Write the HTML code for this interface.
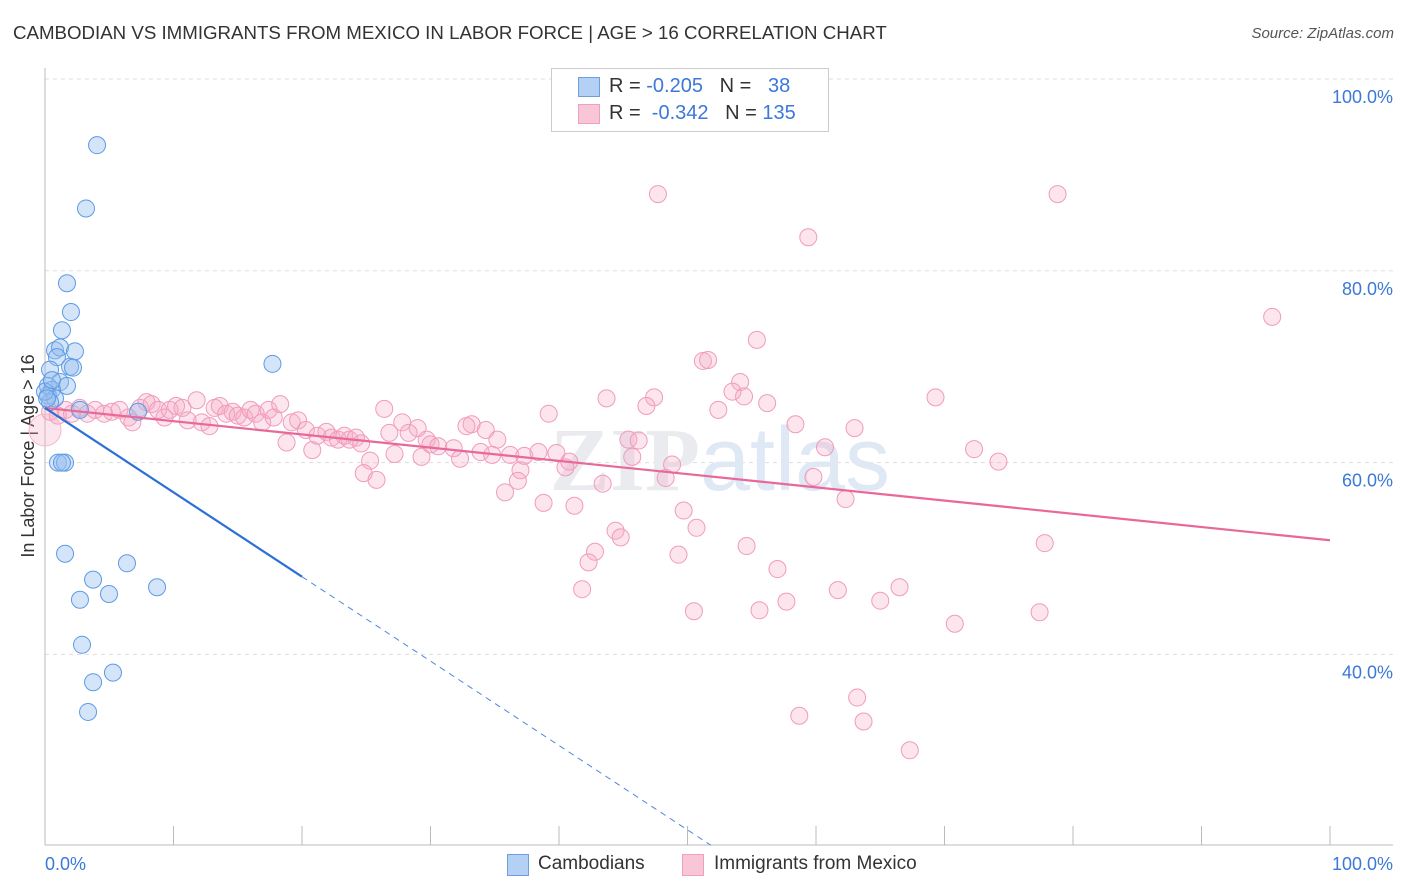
<!DOCTYPE html>
<html><head><meta charset="utf-8">
<style>
body{margin:0;background:#fff;font-family:"Liberation Sans",sans-serif;}
#wrap{position:relative;width:1406px;height:892px;overflow:hidden;}
.t{position:absolute;white-space:nowrap;}
</style></head>
<body>
<div id="wrap">
<div class="t" style="left:13px;top:22px;font-size:18.7px;color:#333;">CAMBODIAN VS IMMIGRANTS FROM MEXICO IN LABOR FORCE | AGE &gt; 16 CORRELATION CHART</div>
<div class="t" style="right:12px;top:25px;font-size:15px;font-style:italic;color:#555;">Source: ZipAtlas.com</div>
<svg id="plot" width="1406" height="892" style="position:absolute;left:0;top:0"></svg>
<div style="position:absolute;left:551px;top:68px;width:276px;height:62px;border:1px solid #ccc;background:#fff;">
 <div style="position:absolute;left:26px;top:8px;width:20px;height:18px;background:#b5d0f5;border:1px solid #6d9fe0;"></div>
 <div style="position:absolute;left:26px;top:35px;width:20px;height:18px;background:#f8c6d6;border:1px solid #f0a0bc;"></div>
 <div class="t" style="left:57px;top:6px;font-size:20px;color:#333;">R = <span style="color:#3b78d8">-0.205</span>&nbsp;&nbsp;&nbsp;N = &nbsp;&nbsp;<span style="color:#3b78d8">38</span></div>
 <div class="t" style="left:57px;top:33px;font-size:20px;color:#333;">R = <span style="color:#3b78d8">&nbsp;-0.342</span>&nbsp;&nbsp;&nbsp;N = <span style="color:#3b78d8">135</span></div>
</div>
<div>
 <div style="position:absolute;left:507px;top:854px;width:20px;height:20px;background:#b5d0f5;border:1px solid #6d9fe0;"></div>
 <div class="t" style="left:538px;top:853px;font-size:19px;color:#333;">Cambodians</div>
 <div style="position:absolute;left:682px;top:854px;width:20px;height:20px;background:#f8c6d6;border:1px solid #f0a0bc;"></div>
 <div class="t" style="left:714px;top:853px;font-size:19px;color:#333;">Immigrants from Mexico</div>
</div>
</div>
<script>
const yTicks=[100,80,60,40];
const yTickLabels=["100.0%","80.0%","60.0%","40.0%"];
const xEndLabels=["0.0%","100.0%"];
const blueX=[4.05,3.19,1.71,2.02,1.32,0.78,1.17,2.33,0.93,1.95,2.18,0.39,1.17,1.71,0.23,0.54,0.23,0.78,0.39,7.24,2.72,17.7,1.01,1.56,1.32,1.56,3.74,6.38,8.72,2.72,4.98,2.88,3.74,5.29,3.35,0,0.16,0.54];
const blueY=[93.1,86.5,78.7,75.7,73.8,71.7,72.0,71.6,71.0,70.0,69.9,69.7,68.4,68.0,68.0,67.6,67.0,66.7,66.3,65.3,65.5,70.3,60.0,60.0,60.0,50.5,47.8,49.5,47.0,45.7,46.3,41.0,37.1,38.1,34.0,67.4,66.7,68.6];
const pinkX=[47.7,78.8,59.4,95.5,55.4,51.2,51.6,54.1,53.5,54.4,47.4,43.7,69.3,56.2,46.8,26.4,39.2,52.4,58.4,63.0,27.8,33.2,32.8,34.3,29.0,26.8,28.3,29.7,30.0,30.6,31.8,35.2,45.4,46.2,60.7,72.3,74.2,27.2,29.3,32.3,33.9,34.8,36.2,37.3,38.4,39.8,40.8,40.5,45.7,48.8,37.0,25.3,24.8,25.8,36.8,43.4,48.3,59.8,35.8,38.8,41.2,62.3,49.7,50.7,44.4,44.8,42.8,42.3,49.3,54.6,77.8,57.0,41.8,66.5,61.7,57.7,65.0,50.5,55.6,77.4,70.8,63.2,58.7,63.7,67.3,
0.4,1.0,1.6,2.1,2.7,3.3,3.9,4.6,5.2,5.8,6.5,6.8,7.4,7.9,8.3,8.8,9.3,9.7,10.2,10.7,11.1,11.8,12.2,12.8,13.2,13.6,14.1,14.6,15.0,15.5,16.0,16.4,16.9,17.4,17.8,18.3,18.8,19.2,19.7,20.3,20.8,21.2,21.9,22.3,22.8,23.3,23.7,24.2,24.6];
const pinkY=[88.0,88.0,83.5,75.2,72.8,70.6,70.7,68.4,67.4,66.9,66.8,66.7,66.8,66.2,65.9,65.6,65.1,65.5,64.0,63.6,64.2,64.0,63.8,63.4,63.6,63.1,63.1,62.4,61.9,61.7,61.5,62.4,62.4,62.3,61.6,61.4,60.1,60.9,60.6,60.4,61.1,60.8,60.8,60.7,61.1,61.0,60.1,59.5,60.6,59.8,59.2,60.2,58.9,58.2,58.1,57.8,58.4,58.5,56.9,55.8,55.5,56.2,55.0,53.2,52.9,52.2,50.7,49.6,50.4,51.3,51.6,48.9,46.8,47.0,46.7,45.5,45.6,44.5,44.6,44.4,43.2,35.5,33.6,33.0,30.0,
65.3,64.9,65.5,65.1,65.7,65.1,65.5,65.1,65.3,65.5,64.7,64.2,65.7,66.3,66.1,65.5,64.7,65.5,65.9,65.7,64.4,66.5,64.2,63.8,65.7,65.9,65.1,65.3,64.9,64.7,65.5,65.1,64.2,65.5,64.7,66.1,62.1,64.2,64.4,63.4,61.3,62.8,63.2,62.6,62.4,62.8,62.4,62.6,62.0];
const blueTrend=[65.7,-0.88]; // intercept, slope
const pinkTrend=[65.7,-0.138];
const NS="http://www.w3.org/2000/svg";
const svg=document.getElementById('plot');
const X0=45,X1=1330,YB=845;
const sx=v=>X0+(X1-X0)*v/100;
const sy=v=>1038-9.59*v;
function mk(t,a){const e=document.createElementNS(NS,t);for(const k in a)e.setAttribute(k,a[k]);svg.appendChild(e);return e;}
yTicks.forEach((v,i)=>{
 const g=mk('line',{x1:45,x2:1393,y1:sy(v),y2:sy(v),stroke:'#ddd','stroke-dasharray':'4,4'});
 
 
 const t=mk('text',{x:1393,y:sy(v)+24,'text-anchor':'end','font-size':18,fill:'#3b78d8','font-family':'Liberation Sans'});
 t.textContent=yTickLabels[i];
 
 
});
let ax=mk('line',{x1:45,x2:45,y1:68,y2:845,stroke:'#bbb'});


let bx=mk('line',{x1:45,x2:1393,y1:845,y2:845,stroke:'#bbb'});


for(let k=0;k<=10;k++){
 const tk=mk('line',{x1:sx(k*10),x2:sx(k*10),y1:826,y2:845,stroke:'#bbb'});
 
 
}
[[0,'start',45],[100,'end',1393]].forEach((d,i)=>{
 const t=mk('text',{x:d[2],y:870,'text-anchor':d[1],'font-size':18,fill:'#3b78d8','font-family':'Liberation Sans'});
 t.textContent=xEndLabels[i];
 
 
});
const yl=mk('text',{x:0,y:0,transform:'translate(34,456) rotate(-90)','text-anchor':'middle','font-size':18,fill:'#333','font-family':'Liberation Sans'});
yl.textContent='In Labor Force | Age > 16';


const wm=mk('text',{x:720,y:490,'text-anchor':'middle','font-size':90,fill:'#eaebef','font-family':'Liberation Serif','font-weight':'bold'});
wm.innerHTML='ZIP<tspan fill="#dfe8f5" font-family="Liberation Sans" font-weight="normal">atlas</tspan>';


pinkX.forEach((x,i)=>{
 const c=mk('circle',{cx:sx(x),cy:sy(pinkY[i]),r:8.5,fill:'rgba(246,170,196,0.3)',stroke:'#f19bbb','stroke-width':1});
 
 
});
const big=mk('circle',{cx:sx(0),cy:sy(63.4),r:16,fill:'rgba(246,170,196,0.3)',stroke:'#f5b5cb'});


blueX.forEach((x,i)=>{
 const c=mk('circle',{cx:sx(x),cy:sy(blueY[i]),r:8.5,fill:'rgba(150,190,240,0.4)',stroke:'#5d9be3','stroke-width':1});
 
 
});
const pt=mk('line',{x1:sx(0),y1:sy(pinkTrend[0]),x2:sx(100),y2:sy(pinkTrend[0]+pinkTrend[1]*100),stroke:'#e8689a','stroke-width':2.2});


const bt=mk('line',{x1:sx(0),y1:sy(blueTrend[0]),x2:sx(20),y2:sy(blueTrend[0]+blueTrend[1]*20),stroke:'#2c6fd6','stroke-width':2.2});


const xe=(20.1-blueTrend[0])/blueTrend[1];
const bd=mk('line',{x1:sx(20),y1:sy(blueTrend[0]+blueTrend[1]*20),x2:sx(xe),y2:sy(20.1),stroke:'#4d86dc','stroke-width':1,'stroke-dasharray':'6,5'});


</script>
</body></html>
